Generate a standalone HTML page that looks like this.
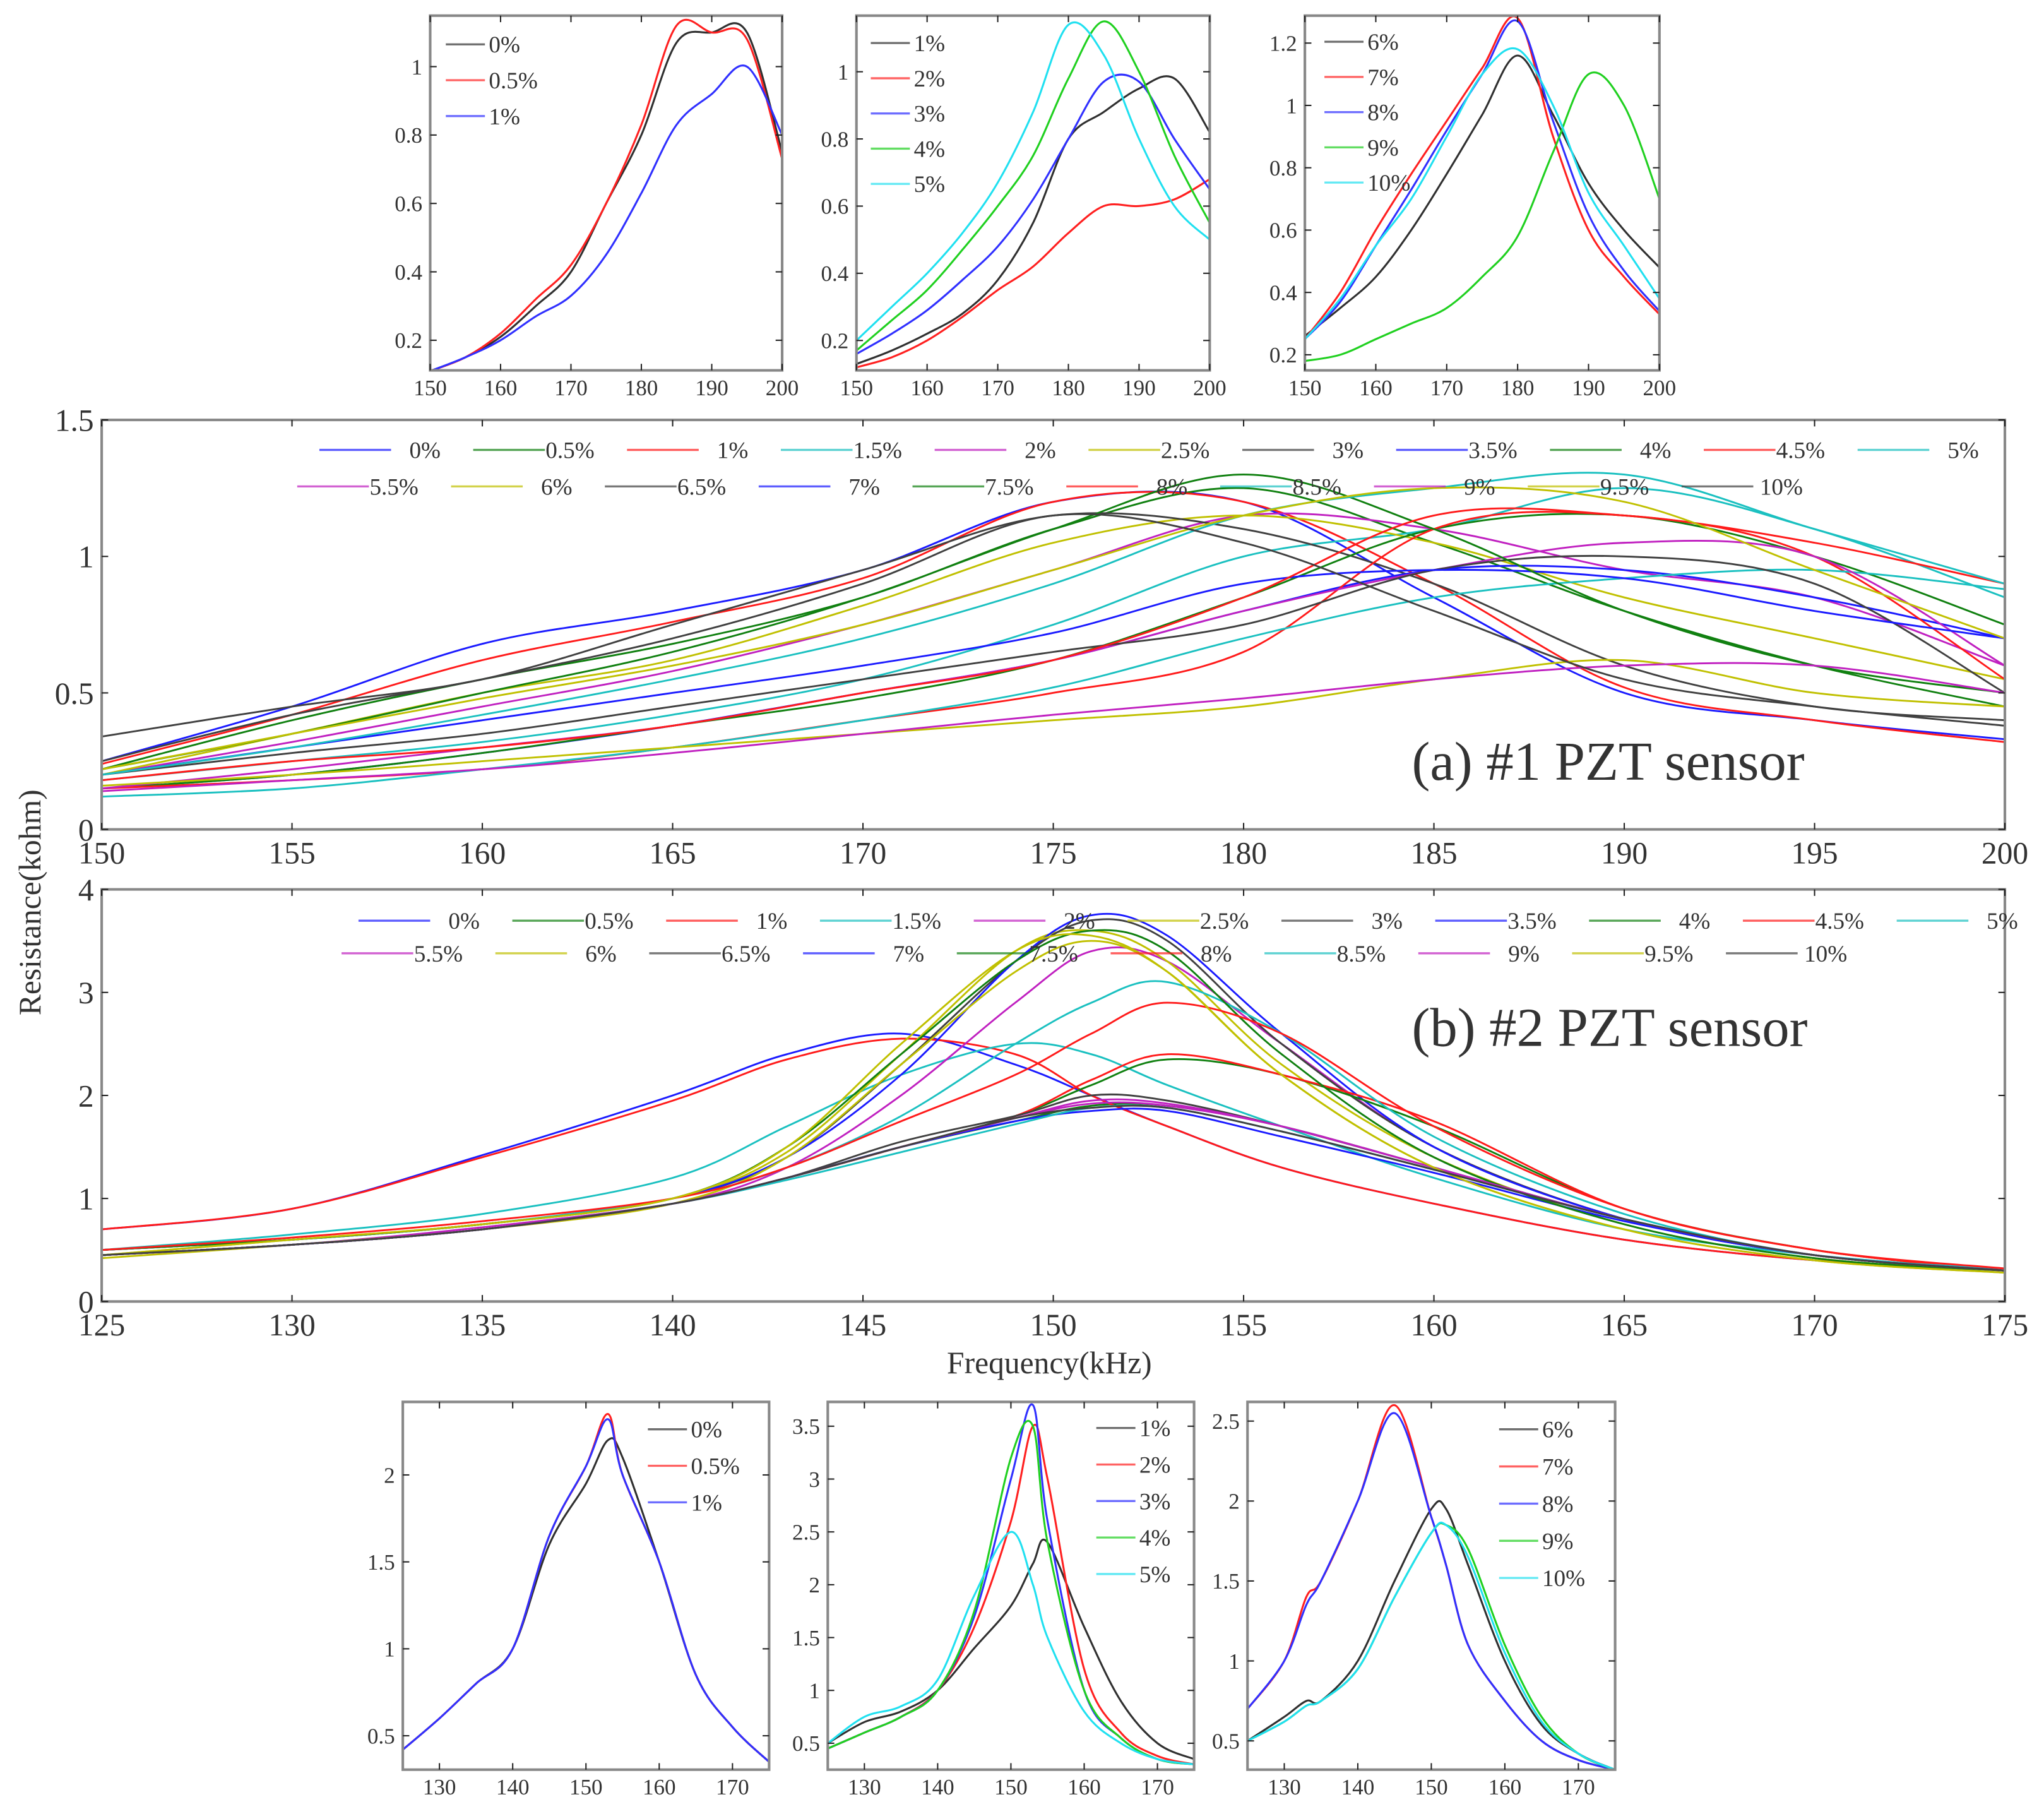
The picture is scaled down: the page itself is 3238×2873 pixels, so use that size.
<!DOCTYPE html>
<html><head><meta charset="utf-8"><style>
html,body{margin:0;padding:0;background:#fff;}
svg{display:block;font-family:"Liberation Serif","Times New Roman",serif;}
svg text{font-family:"Liberation Serif","Times New Roman",serif;fill:#333;}
</style></head><body>
<svg id="fig" width="3238" height="2873" viewBox="0 0 1568 1391" preserveAspectRatio="none" font-family="Liberation Serif, serif" xmlns="http://www.w3.org/2000/svg">
<text x="0" y="0" font-size="24" font-family="Liberation Serif, serif" text-anchor="middle" transform="translate(31,692) rotate(-90)">Resistance(kohm)</text>
<text x="805" y="1053" font-size="24" font-family="Liberation Serif, serif" text-anchor="middle">Frequency(kHz)</text>
<text x="1083" y="598" font-size="42" font-family="Liberation Serif, serif">(a) #1 PZT sensor</text>
<text x="1083" y="802" font-size="42" font-family="Liberation Serif, serif">(b) #2 PZT sensor</text>
</svg>
<script>
// ---------- data ----------
const labels21 = ["0%","0.5%","1%","1.5%","2%","2.5%","3%","3.5%","4%","4.5%","5%","5.5%","6%","6.5%","7%","7.5%","8%","8.5%","9%","9.5%","10%"];
const colors7 = ["#1a1aff","#108010","#ff1a1a","#1ac0c0","#c020c0","#c0c000","#404040"];
const aFreq = [150,155,160,165,170,175,180,185,190,195,200];
const aSeries = [
[0.25,0.45,0.68,0.8,0.95,1.2,1.2,0.85,0.5,0.4,0.33],
[0.22,0.4,0.55,0.68,0.85,1.1,1.25,1.05,0.8,0.6,0.45],
[0.24,0.42,0.62,0.76,0.92,1.2,1.2,0.9,0.52,0.4,0.32],
[0.18,0.25,0.32,0.42,0.55,0.75,1.0,1.1,1.25,1.1,0.85],
[0.2,0.32,0.45,0.58,0.75,0.95,1.15,1.1,0.95,0.85,0.6],
[0.2,0.35,0.5,0.62,0.82,1.05,1.15,1.05,0.85,0.7,0.55],
[0.34,0.45,0.55,0.75,0.95,1.15,1.1,0.9,0.6,0.45,0.4],
[0.15,0.2,0.28,0.38,0.5,0.62,0.8,0.95,0.95,0.85,0.7],
[0.15,0.2,0.28,0.38,0.48,0.62,0.85,1.1,1.15,1.0,0.75],
[0.15,0.18,0.22,0.3,0.4,0.5,0.65,1.1,1.15,1.0,0.55],
[0.12,0.15,0.22,0.3,0.4,0.52,0.7,0.85,0.92,0.95,0.88],
[0.15,0.22,0.3,0.38,0.5,0.62,0.8,0.95,1.05,1.0,0.6],
[0.16,0.2,0.25,0.3,0.35,0.4,0.45,0.55,0.62,0.5,0.45],
[0.2,0.28,0.35,0.45,0.55,0.65,0.75,0.95,1.0,0.9,0.5],
[0.2,0.3,0.4,0.5,0.6,0.72,0.9,0.95,0.92,0.8,0.7],
[0.22,0.35,0.5,0.65,0.85,1.1,1.3,1.1,0.8,0.6,0.5],
[0.18,0.25,0.3,0.38,0.5,0.62,0.85,1.15,1.15,1.05,0.9],
[0.2,0.3,0.42,0.55,0.7,0.9,1.15,1.25,1.3,1.1,0.9],
[0.14,0.18,0.22,0.28,0.35,0.42,0.48,0.55,0.6,0.6,0.5],
[0.22,0.35,0.48,0.6,0.75,0.95,1.15,1.25,1.2,0.95,0.7],
[0.25,0.42,0.55,0.7,0.9,1.15,1.05,0.8,0.55,0.45,0.38]];
const bFreq = [125,130,135,140,143,146,149,151,153,156,160,165,170,175];
const bSeries = [
[0.7,0.9,1.42,2.0,2.4,2.6,2.3,2.0,1.7,1.3,0.95,0.6,0.4,0.3],
[0.45,0.55,0.7,0.95,1.2,1.5,1.75,1.9,1.9,1.7,1.3,0.8,0.45,0.3],
[0.7,0.9,1.4,1.95,2.35,2.55,2.4,2.0,1.7,1.3,0.95,0.6,0.4,0.3],
[0.5,0.65,0.85,1.2,1.7,2.2,2.5,2.4,2.1,1.7,1.2,0.7,0.45,0.3],
[0.45,0.55,0.7,0.95,1.3,2.0,2.9,3.4,3.3,2.5,1.5,0.8,0.45,0.3],
[0.45,0.6,0.75,1.0,1.45,2.4,3.4,3.6,3.3,2.3,1.4,0.75,0.42,0.3],
[0.5,0.6,0.75,1.0,1.4,2.3,3.3,3.7,3.5,2.5,1.5,0.8,0.45,0.3],
[0.5,0.6,0.75,1.0,1.4,2.2,3.3,3.75,3.55,2.6,1.5,0.8,0.45,0.3],
[0.45,0.55,0.7,0.95,1.2,1.5,1.8,2.1,2.35,2.2,1.7,0.9,0.5,0.3],
[0.45,0.55,0.7,0.95,1.2,1.5,1.8,2.15,2.4,2.2,1.75,0.9,0.5,0.3],
[0.5,0.6,0.75,1.0,1.3,1.8,2.5,2.9,3.1,2.6,1.6,0.85,0.45,0.32],
[0.45,0.55,0.72,0.95,1.2,1.5,1.78,1.92,1.9,1.7,1.3,0.8,0.45,0.3],
[0.42,0.55,0.7,0.95,1.4,2.3,3.2,3.5,3.2,2.2,1.3,0.7,0.4,0.28],
[0.45,0.55,0.7,0.95,1.2,1.55,1.8,2.0,1.95,1.7,1.3,0.8,0.45,0.3],
[0.45,0.55,0.7,0.95,1.2,1.5,1.75,1.85,1.85,1.6,1.25,0.78,0.45,0.3],
[0.5,0.6,0.75,1.0,1.5,2.4,3.3,3.6,3.4,2.4,1.4,0.75,0.42,0.3],
[0.5,0.62,0.78,1.0,1.3,1.75,2.2,2.6,2.9,2.6,1.7,0.9,0.5,0.32],
[0.45,0.55,0.7,0.95,1.18,1.45,1.72,1.88,1.88,1.65,1.28,0.8,0.45,0.3],
[0.45,0.55,0.7,0.95,1.2,1.5,1.78,1.95,1.92,1.7,1.3,0.8,0.45,0.3],
[0.45,0.6,0.75,1.0,1.5,2.5,3.4,3.55,3.2,2.2,1.3,0.7,0.4,0.28],
[0.45,0.55,0.7,0.95,1.2,1.5,1.78,1.88,1.88,1.65,1.28,0.8,0.45,0.3]];
const t1Freq = [150,155,160,165,170,175,180,185,190,195,200];
const t1Labels = ["0%","0.5%","1%"];
const t1Series = [
[0.11,0.15,0.21,0.3,0.4,0.6,0.8,1.07,1.1,1.1,0.75],
[0.11,0.15,0.22,0.32,0.42,0.6,0.83,1.12,1.1,1.08,0.73],
[0.11,0.15,0.2,0.27,0.33,0.45,0.63,0.83,0.92,1.0,0.8]];
const t2Labels = ["1%","2%","3%","4%","5%"];
const t2Series = [
[0.13,0.17,0.22,0.28,0.38,0.55,0.8,0.88,0.95,0.98,0.82],
[0.12,0.15,0.2,0.27,0.35,0.42,0.52,0.6,0.6,0.62,0.68],
[0.16,0.22,0.29,0.38,0.48,0.62,0.8,0.97,0.97,0.8,0.65],
[0.17,0.26,0.35,0.47,0.6,0.75,0.98,1.15,1.0,0.75,0.55],
[0.2,0.3,0.4,0.52,0.67,0.88,1.14,1.05,0.8,0.6,0.5]];
const t3Labels = ["6%","7%","8%","9%","10%"];
const t3Series = [
[0.26,0.35,0.45,0.6,0.78,0.97,1.16,0.97,0.75,0.6,0.48],
[0.25,0.4,0.6,0.78,0.95,1.12,1.28,0.9,0.6,0.45,0.33],
[0.25,0.37,0.55,0.73,0.92,1.1,1.27,0.95,0.65,0.47,0.34],
[0.18,0.2,0.25,0.3,0.35,0.45,0.58,0.85,1.1,1.0,0.7],
[0.25,0.38,0.55,0.7,0.9,1.1,1.18,1.0,0.72,0.55,0.38]];
const s1Freq = [125,130,135,140,145,150,153,155,160,165,170,175];
const s1Series = [
[0.42,0.6,0.8,1.0,1.6,1.95,2.2,2.1,1.5,0.85,0.55,0.35],
[0.42,0.6,0.8,1.0,1.65,2.05,2.35,2.0,1.5,0.85,0.55,0.35],
[0.42,0.6,0.8,1.0,1.65,2.05,2.32,2.0,1.5,0.85,0.55,0.35]];
const s2Series = [
[0.5,0.7,0.8,1.0,1.4,1.8,2.2,2.4,1.6,0.9,0.5,0.35],
[0.45,0.6,0.75,1.0,1.6,2.6,3.5,3.0,1.2,0.6,0.38,0.3],
[0.45,0.6,0.75,1.0,1.7,3.0,3.7,2.6,1.0,0.55,0.35,0.3],
[0.45,0.6,0.75,1.0,1.75,3.2,3.5,2.4,1.0,0.55,0.35,0.3],
[0.5,0.75,0.85,1.1,1.9,2.5,2.0,1.5,0.8,0.5,0.35,0.3]];
const s3Freq = [125,130,133,135,140,145,150,152,155,160,165,170,175];
const s3Series = [
[0.5,0.65,0.75,0.75,1.0,1.5,1.95,1.95,1.6,1.0,0.6,0.42,0.32],
[0.7,1.0,1.4,1.5,2.0,2.6,1.9,1.6,1.1,0.75,0.5,0.38,0.32],
[0.7,1.0,1.35,1.5,2.0,2.55,1.9,1.6,1.1,0.75,0.5,0.38,0.32],
[0.5,0.62,0.72,0.75,0.95,1.4,1.8,1.85,1.7,1.1,0.65,0.42,0.32],
[0.5,0.62,0.72,0.75,0.95,1.4,1.8,1.85,1.65,1.05,0.62,0.42,0.32]];
const smallColors = ["#303030","#ff2020","#3030ff","#20d020","#20e0f0"];
const aXTicks = [150,155,160,165,170,175,180,185,190,195,200];
const aYTicks = [0,0.5,1,1.5];
const bXTicks = [125,130,135,140,145,150,155,160,165,170,175];
const bYTicks = [0,1,2,3,4];

// ---------- drawing ----------
const NS = "http://www.w3.org/2000/svg";
const svg = document.getElementById("fig");
const FF = "Liberation Serif, serif";
function el(tag, attrs, parent){
  const e = document.createElementNS(NS, tag);
  for (const k in attrs) e.setAttribute(k, attrs[k]);
  if (tag === "text") e.setAttribute("font-family", FF);
  (parent||svg).appendChild(e);
  return e;
}
function smoothPath(pts){
  let d = "M"+pts[0][0].toFixed(1)+","+pts[0][1].toFixed(1);
  for (let i=0;i<pts.length-1;i++){
    const p0=pts[Math.max(0,i-1)],p1=pts[i],p2=pts[i+1],p3=pts[Math.min(pts.length-1,i+2)];
    const c1=[p1[0]+(p2[0]-p0[0])/6,p1[1]+(p2[1]-p0[1])/6];
    const c2=[p2[0]-(p3[0]-p1[0])/6,p2[1]-(p3[1]-p1[1])/6];
    d+=" C"+c1[0].toFixed(1)+","+c1[1].toFixed(1)+" "+c2[0].toFixed(1)+","+c2[1].toFixed(1)+" "+p2[0].toFixed(1)+","+p2[1].toFixed(1);
  }
  return d;
}
function plot(cfg){
  const g = el("g", {});
  
  
  const X = v => cfg.x0 + (v-cfg.xmin)/(cfg.xmax-cfg.xmin)*(cfg.x1-cfg.x0);
  const Y = v => cfg.y1 - (v-cfg.ymin)/(cfg.ymax-cfg.ymin)*(cfg.y1-cfg.y0);
  const clip = el("clipPath", {id: cfg.name+"-clip"}, g);
  el("rect", {x:cfg.x0, y:cfg.y0, width:cfg.x1-cfg.x0, height:cfg.y1-cfg.y0}, clip);
  const lines = el("g", {"clip-path":"url(#"+cfg.name+"-clip)"}, g);
  cfg.series.forEach((s,i)=>{
    const p = el("path", {d: smoothPath(s.map((v,j)=>[X(cfg.freq[j]),Y(v)])), fill:"none", stroke:cfg.colors[i%cfg.colors.length], "stroke-width":cfg.sw||1.4}, lines);
    
    
  });
  el("rect", {x:cfg.x0, y:cfg.y0, width:cfg.x1-cfg.x0, height:cfg.y1-cfg.y0, fill:"none", stroke:"#888", "stroke-width":2}, g);
  cfg.xticks.forEach(t=>{
    el("line",{x1:X(t),x2:X(t),y1:cfg.y1,y2:cfg.y1-5,stroke:"#222","stroke-width":1},g);
    el("line",{x1:X(t),x2:X(t),y1:cfg.y0,y2:cfg.y0+5,stroke:"#222","stroke-width":1},g);
    const tx = el("text",{x:X(t),y:cfg.y1+cfg.fs+2,"font-size":cfg.fs,"text-anchor":"middle"},g);
    tx.textContent=t;
    
    
  });
  cfg.yticks.forEach(t=>{
    el("line",{x1:cfg.x0,x2:cfg.x0+5,y1:Y(t),y2:Y(t),stroke:"#222","stroke-width":1},g);
    el("line",{x1:cfg.x1,x2:cfg.x1-5,y1:Y(t),y2:Y(t),stroke:"#222","stroke-width":1},g);
    const tx = el("text",{x:cfg.x0-6,y:Y(t)+cfg.fs*0.35,"font-size":cfg.fs,"text-anchor":"end"},g);
    tx.textContent=t;
    
    
  });
  cfg.legend.forEach((L,i)=>{
    const lg = el("g",{},g);
    
    
    el("line",{x1:L[0],x2:L[0]+cfg.ll,y1:L[1],y2:L[1],stroke:cfg.colors[i%cfg.colors.length],"stroke-width":1.6,opacity:0.7},lg);
    const tx = el("text",{x:L[0]+cfg.ll+(cfg.lend?cfg.lgap:3),y:L[1]+cfg.lfs*0.35,"font-size":cfg.lfs,"text-anchor":cfg.lend?"end":"start"},lg);
    tx.textContent=cfg.labels[i];
  });
}
function mainLegend(x1,y1,x2,y2){
  const out=[];
  for(let i=0;i<21;i++){
    if(i<11) out.push([x1+i*118,y1]); else out.push([x2+(i-11)*118,y2]);
  }
  return out;
}
plot({name:"chart-a",x0:78,x1:1538,y0:322,y1:636,xmin:150,xmax:200,ymin:0,ymax:1.5,freq:aFreq,series:aSeries,labels:labels21,colors:colors7,xticks:aXTicks,yticks:aYTicks,fs:24,legend:mainLegend(245,345,228,373),ll:55,lfs:18,lend:true,lgap:38});
plot({name:"chart-b",x0:78,x1:1538,y0:682,y1:998,xmin:125,xmax:175,ymin:0,ymax:4,freq:bFreq,series:bSeries,labels:labels21,colors:colors7,xticks:bXTicks,yticks:bYTicks,fs:24,legend:mainLegend(275,706,262,731),ll:55,lfs:18,lend:true,lgap:38});
function smallLeg(x,y,n,dy){const o=[];for(let i=0;i<n;i++)o.push([x,y+i*dy]);return o;}
const sm = {fs:17,lfs:18,ll:30,sw:1.5};
plot(Object.assign({name:"inset-top-1",x0:330,x1:600,y0:12,y1:284,xmin:150,xmax:200,ymin:0.112,ymax:1.149,freq:t1Freq,series:t1Series,labels:t1Labels,colors:["#303030","#ff2020","#3030ff"],xticks:[150,160,170,180,190,200],yticks:[0.2,0.4,0.6,0.8,1],legend:smallLeg(342,34,3,27.5)},sm));
plot(Object.assign({name:"inset-top-2",x0:657,x1:928,y0:12,y1:284,xmin:150,xmax:200,ymin:0.111,ymax:1.167,freq:t1Freq,series:t2Series,labels:t2Labels,colors:smallColors,xticks:[150,160,170,180,190,200],yticks:[0.2,0.4,0.6,0.8,1],legend:smallLeg(668,33,5,27)},sm));
plot(Object.assign({name:"inset-top-3",x0:1001,x1:1273,y0:12,y1:284,xmin:150,xmax:200,ymin:0.15,ymax:1.288,freq:t1Freq,series:t3Series,labels:t3Labels,colors:smallColors,xticks:[150,160,170,180,190,200],yticks:[0.2,0.4,0.6,0.8,1,1.2],legend:smallLeg(1016,32,5,27)},sm));
plot(Object.assign({name:"inset-bottom-1",x0:309,x1:590,y0:1075,y1:1357,xmin:125,xmax:175,ymin:0.305,ymax:2.42,freq:s1Freq,series:s1Series,labels:t1Labels,colors:["#303030","#ff2020","#3030ff"],xticks:[130,140,150,160,170],yticks:[0.5,1,1.5,2],legend:smallLeg(497,1096,3,28)},sm));
plot(Object.assign({name:"inset-bottom-2",x0:635,x1:916,y0:1075,y1:1357,xmin:125,xmax:175,ymin:0.25,ymax:3.73,freq:s1Freq,series:s2Series,labels:t2Labels,colors:smallColors,xticks:[130,140,150,160,170],yticks:[0.5,1,1.5,2,2.5,3,3.5],legend:smallLeg(841,1095,5,28)},sm));
plot(Object.assign({name:"inset-bottom-3",x0:957,x1:1239,y0:1075,y1:1357,xmin:125,xmax:175,ymin:0.32,ymax:2.62,freq:s3Freq,series:s3Series,labels:t3Labels,colors:smallColors,xticks:[130,140,150,160,170],yticks:[0.5,1,1.5,2,2.5],legend:smallLeg(1150,1096,5,28.5)},sm));
</script>
</body></html>
